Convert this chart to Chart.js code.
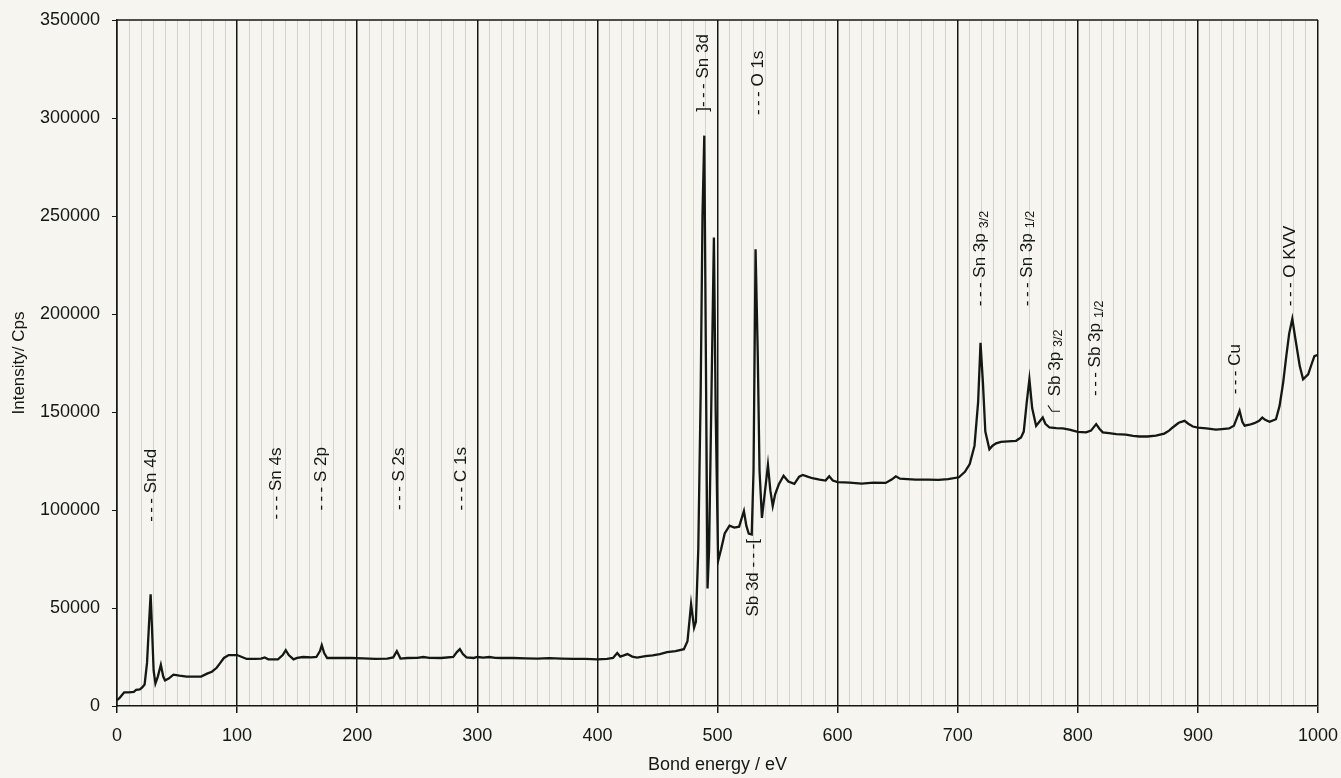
<!DOCTYPE html>
<html>
<head>
<meta charset="utf-8">
<script src="https://cdn.jsdelivr.net/npm/chart.js@4.4.1/dist/chart.umd.min.js"></script>
<style>
    body { margin: 0; background: #f6f5f0; }
    canvas { display: block; background: #f6f5f0; }
</style>
</head>
<body>
<canvas id="xps" width="1341" height="778"></canvas>
<script>
// spectrum (bond energy in eV, intensity in cps)
const energy = [
    0, 2, 4, 6, 10, 14, 16, 19, 21, 23, 25, 26.5, 28, 29, 30.5, 32, 34, 36.5, 38.5, 40,
    43, 47, 52, 58, 65, 70, 75, 79, 83, 86, 89, 93, 100, 104, 108, 115, 120, 123, 126, 134,
    138, 140.5, 143, 147, 150, 155, 162, 166, 169, 170.5, 172.5, 175, 185, 195, 205, 215, 225, 230, 233, 236,
    242, 250, 255, 260, 270, 280, 283, 285.5, 288, 291, 297, 300, 305, 310, 315, 320, 330, 340, 350, 360,
    370, 380, 390, 400, 408, 413, 416.5, 419, 422, 425, 429, 433, 440, 446, 452, 458, 465, 472, 475, 478,
    480.5, 482, 484, 486, 487.5, 489, 490.3, 491.7, 493, 495, 497, 498.5, 500.5, 503, 506, 510, 514, 518, 522, 524,
    526, 528.5, 530, 531.7, 533.5, 535, 537, 540, 542, 544, 546, 548, 551, 555, 559, 564, 568, 571, 575, 579,
    585, 590, 593, 596, 600, 610, 620, 630, 640, 645, 648.5, 652, 658, 665, 675, 684, 692, 701, 706, 710,
    714, 717, 719, 721, 723, 726.4, 729, 732, 736, 742, 748.6, 752.7, 755, 757.5, 759.7, 762, 765.3, 768, 770.8, 773,
    776.4, 782, 787.5, 793, 800, 806.9, 811, 815.3, 818, 820.8, 826, 832, 840, 846, 851.4, 858, 865, 872, 876, 879,
    884, 888.9, 892, 895.8, 900, 907, 915, 920, 926, 930, 932.5, 934.7, 937, 938.9, 943, 947, 951, 953.6, 956, 959.7,
    965, 968, 971, 973.6, 976, 978.6, 981, 984.8, 987.6, 991.8, 995, 997, 1000
];
const counts = [
    3000, 4000, 5500, 7000, 7000, 7200, 8300, 8500, 9500, 11000, 22000, 40000, 57000, 42000, 18000, 11500, 15000, 21000, 15000, 13000,
    14000, 16000, 15500, 15000, 15000, 15000, 16500, 17500, 19500, 22000, 24500, 26000, 26000, 25000, 24000, 24000, 24200, 24800, 23800, 23800,
    26000, 28500, 26000, 23800, 24500, 25000, 24800, 25000, 28000, 31000, 27000, 24500, 24500, 24500, 24300, 24000, 24200, 24800, 28000, 24200,
    24500, 24600, 25000, 24600, 24500, 25000, 27500, 29000, 26500, 24800, 24500, 25000, 24700, 25000, 24600, 24500, 24500, 24300, 24200, 24400,
    24200, 24000, 24000, 23800, 24000, 24500, 27000, 25200, 25800, 26500, 25200, 24700, 25500, 25800, 26500, 27500, 28000, 29000, 33000, 52000,
    40000, 43000, 80000, 160000, 250000, 291000, 180000, 60000, 80000, 160000, 239000, 150000, 74000, 80000, 88000, 92000, 91000, 91500, 99500, 92000,
    88000, 87500, 120000, 233000, 180000, 120000, 96000, 112000, 123000, 110000, 102000, 108000, 113000, 117500, 114500, 113300, 117000, 117900, 117000, 116200,
    115500, 115000, 117200, 115000, 114200, 114000, 113500, 114000, 113800, 115500, 117200, 116000, 115800, 115500, 115500, 115400, 115800, 116700, 119500, 123400,
    132800, 155000, 185300, 165000, 140000, 131000, 132800, 134000, 134800, 135000, 135300, 137000, 140000, 155000, 166700, 152000, 142900, 145000, 147200, 144000,
    142100, 141800, 141600, 141000, 139900, 139600, 140500, 143800, 141500, 139600, 139200, 138700, 138500, 137800, 137500, 137500, 138000, 139000, 140500, 142100,
    144500, 145500, 144000, 142600, 142000, 141600, 141000, 141300, 141600, 143000, 147000, 150600, 145000, 143000, 143500, 144300, 145500, 147200, 146000, 145000,
    146300, 153100, 165000, 178500, 190000, 197500, 188000, 173400, 166700, 169200, 175000, 178500, 179200
];

// peak labels: text, subscript, anchor (energy, intensity at the bottom end of the text)
const peakNames = ['--- Sn 4d', '--- Sn 4s', '--- S 2p', '--- S 2s', '--- C 1s', ']--- Sn 3d', '--- O 1s', 'Sb 3d ---[',
    '--- Sn 3p', '--- Sn 3p', 'Sb 3p', '--- Sb 3p', '--- Cu', '--- O KVV'];
const peakSubs = ['', '', '', '', '', '', '', '', '3/2', '1/2', '3/2', '1/2', '', ''];
const peakX = [28.5, 132.7, 170, 235.4, 286.8, 488, 534, 530, 718.7, 757.7, 781, 814.6, 931, 977];
const peakY = [94000, 95100, 99700, 100000, 99700, 303200, 301500, 45600, 204000, 204000, 158000, 158200, 159000, 204000];

const FONT = '"Liberation Sans", Arial, sans-serif';
const INK = '#141814';

const spectrum = energy.map((e, i) => ({ x: e, y: counts[i] }));

const isMajor = ctx => ctx.tick && Math.round(ctx.tick.value) % 100 === 0;

const peakLabels = {
    id: 'peakLabels',
    afterDatasetsDraw(chart) {
        const { ctx, scales: { x, y }, chartArea } = chart;
        ctx.save();
        // top frame line
        ctx.strokeStyle = INK;
        ctx.lineWidth = 1.5;
        ctx.beginPath();
        ctx.moveTo(chartArea.left, chartArea.top);
        ctx.lineTo(chartArea.right, chartArea.top);
        ctx.stroke();

        ctx.fillStyle = INK;
        peakNames.forEach((name, i) => {
            const px = x.getPixelForValue(peakX[i]);
            const py = y.getPixelForValue(peakY[i]);
            // the scan's dashes are spaced wider than plain hyphens
            const shown = name.replace('---', '-\u2009-\u2009-');
            ctx.save();
            ctx.translate(px, py);
            ctx.rotate(-Math.PI / 2);
            ctx.font = '17px ' + FONT;
            ctx.textAlign = 'left';
            ctx.textBaseline = 'middle';
            ctx.fillText(shown, 0, 0);
            if (peakSubs[i]) {
                const w = ctx.measureText(shown).width;
                ctx.font = '12.5px ' + FONT;
                ctx.fillText(peakSubs[i], w + 5, 4);
            }
            ctx.restore();
            if (name === 'Sb 3p') {
                // little "\_" hook under the Sb 3p3/2 label
                ctx.lineWidth = 1.1;
                ctx.beginPath();
                ctx.moveTo(px - 7, py + 9);
                ctx.lineTo(px - 3, py + 15);
                ctx.lineTo(px + 5, py + 15);
                ctx.stroke();
            }
        });
        ctx.restore();
    }
};

new Chart(document.getElementById('xps'), {
    type: 'line',
    data: {
        datasets: [{
            data: spectrum,
            borderColor: INK,
            borderWidth: 2.3,
            pointRadius: 0,
            tension: 0,
            fill: false
        }]
    },
    options: {
        responsive: false,
        animation: false,
        layout: { padding: { left: 0, right: 23, top: 20, bottom: 0 } },
        plugins: {
            legend: { display: false },
            tooltip: { enabled: false }
        },
        scales: {
            x: {
                type: 'linear',
                min: 0,
                max: 1000,
                afterFit: s => {
                    s.height = 72;
                    s.paddingLeft = 0;
                    s.paddingRight = 0;
                },
                ticks: {
                    stepSize: 10,
                    autoSkip: false,
                    maxRotation: 0,
                    minRotation: 0,
                    padding: 12,
                    color: INK,
                    font: { family: FONT, size: 18 },
                    callback: v => (Math.round(v) % 100 === 0 ? v : '')
                },
                grid: {
                    color: ctx => (isMajor(ctx) ? INK : 'rgba(0,0,0,0.18)'),
                    lineWidth: ctx => (isMajor(ctx) ? 1.5 : 0.8),
                    tickColor: ctx => (isMajor(ctx) ? INK : 'rgba(0,0,0,0)'),
                    tickLength: 7
                },
                border: { display: true, color: INK, width: 1.5 },
                title: {
                    display: true,
                    text: 'Bond energy / eV',
                    color: INK,
                    font: { family: FONT, size: 18 },
                    padding: { top: 0, bottom: 2 }
                }
            },
            y: {
                min: 0,
                max: 350000,
                afterFit: s => {
                    s.width = 117;
                    s.paddingTop = 0;
                    s.paddingBottom = 0;
                },
                ticks: {
                    stepSize: 50000,
                    padding: 12,
                    color: INK,
                    font: { family: FONT, size: 18 },
                    callback: v => String(v)
                },
                grid: {
                    drawOnChartArea: false,
                    drawTicks: true,
                    tickLength: 5,
                    color: INK
                },
                border: { display: true, color: INK, width: 1.5 },
                title: {
                    display: true,
                    text: 'Intensity/ Cps',
                    color: INK,
                    font: { family: FONT, size: 17 },
                    padding: { top: 9, bottom: 0 }
                }
            }
        }
    },
    plugins: [peakLabels]
});
</script>
</body>
</html>
